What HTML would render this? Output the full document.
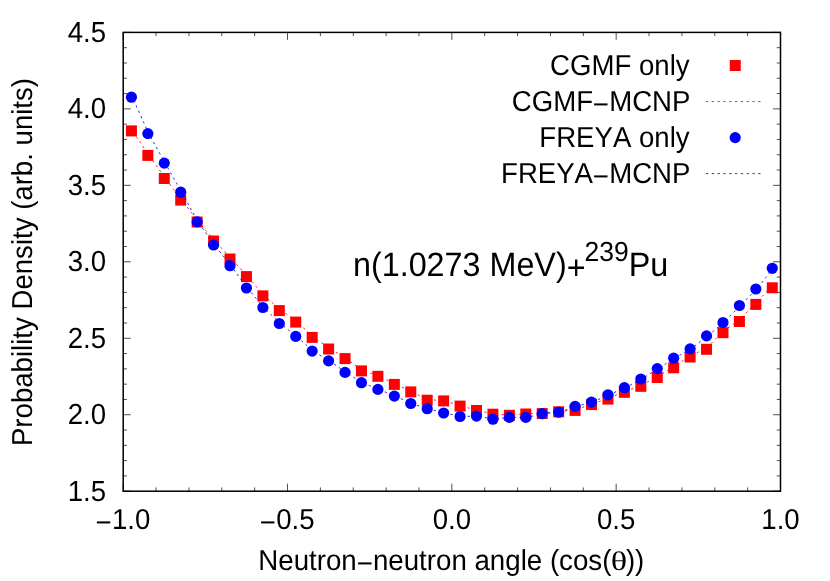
<!DOCTYPE html>
<html><head><meta charset="utf-8"><title>plot</title>
<style>
html,body{margin:0;padding:0;background:#fff;}
body{width:830px;height:581px;overflow:hidden;}
svg{display:block;will-change:transform;}
text{font-family:"Liberation Sans",sans-serif;fill:#000;text-rendering:geometricPrecision;font-kerning:none;}
.t{font-size:27.60px;}
.a{font-size:32.30px;}
</style></head><body>
<svg width="830" height="581" viewBox="0 0 830 581">
<rect width="830" height="581" fill="#fff"/>
<path d="M123.20 491.20h7.50M780.50 491.20h-7.50M123.20 475.91h3.75M780.50 475.91h-3.75M123.20 460.61h3.75M780.50 460.61h-3.75M123.20 445.32h3.75M780.50 445.32h-3.75M123.20 430.03h3.75M780.50 430.03h-3.75M123.20 414.73h7.50M780.50 414.73h-7.50M123.20 399.44h3.75M780.50 399.44h-3.75M123.20 384.15h3.75M780.50 384.15h-3.75M123.20 368.85h3.75M780.50 368.85h-3.75M123.20 353.56h3.75M780.50 353.56h-3.75M123.20 338.27h7.50M780.50 338.27h-7.50M123.20 322.97h3.75M780.50 322.97h-3.75M123.20 307.68h3.75M780.50 307.68h-3.75M123.20 292.39h3.75M780.50 292.39h-3.75M123.20 277.09h3.75M780.50 277.09h-3.75M123.20 261.80h7.50M780.50 261.80h-7.50M123.20 246.51h3.75M780.50 246.51h-3.75M123.20 231.21h3.75M780.50 231.21h-3.75M123.20 215.92h3.75M780.50 215.92h-3.75M123.20 200.63h3.75M780.50 200.63h-3.75M123.20 185.33h7.50M780.50 185.33h-7.50M123.20 170.04h3.75M780.50 170.04h-3.75M123.20 154.75h3.75M780.50 154.75h-3.75M123.20 139.45h3.75M780.50 139.45h-3.75M123.20 124.16h3.75M780.50 124.16h-3.75M123.20 108.87h7.50M780.50 108.87h-7.50M123.20 93.57h3.75M780.50 93.57h-3.75M123.20 78.28h3.75M780.50 78.28h-3.75M123.20 62.99h3.75M780.50 62.99h-3.75M123.20 47.69h3.75M780.50 47.69h-3.75M123.20 32.40h7.50M780.50 32.40h-7.50M123.20 491.20v-7.50M123.20 32.40v7.50M156.06 491.20v-3.75M156.06 32.40v3.75M188.93 491.20v-3.75M188.93 32.40v3.75M221.80 491.20v-3.75M221.80 32.40v3.75M254.66 491.20v-3.75M254.66 32.40v3.75M287.52 491.20v-7.50M287.52 32.40v7.50M320.39 491.20v-3.75M320.39 32.40v3.75M353.25 491.20v-3.75M353.25 32.40v3.75M386.12 491.20v-3.75M386.12 32.40v3.75M418.98 491.20v-3.75M418.98 32.40v3.75M451.85 491.20v-7.50M451.85 32.40v7.50M484.71 491.20v-3.75M484.71 32.40v3.75M517.58 491.20v-3.75M517.58 32.40v3.75M550.45 491.20v-3.75M550.45 32.40v3.75M583.31 491.20v-3.75M583.31 32.40v3.75M616.17 491.20v-7.50M616.17 32.40v7.50M649.04 491.20v-3.75M649.04 32.40v3.75M681.91 491.20v-3.75M681.91 32.40v3.75M714.77 491.20v-3.75M714.77 32.40v3.75M747.63 491.20v-3.75M747.63 32.40v3.75M780.50 491.20v-7.50M780.50 32.40v7.50" stroke="#000" stroke-width="0.7" fill="none"/>
<g fill="#ff0000">
<rect x="125.92" y="125.40" width="11.0" height="11.0"/>
<rect x="142.35" y="149.90" width="11.0" height="11.0"/>
<rect x="158.78" y="173.00" width="11.0" height="11.0"/>
<rect x="175.21" y="194.60" width="11.0" height="11.0"/>
<rect x="191.65" y="216.50" width="11.0" height="11.0"/>
<rect x="208.08" y="235.50" width="11.0" height="11.0"/>
<rect x="224.51" y="253.50" width="11.0" height="11.0"/>
<rect x="240.94" y="271.10" width="11.0" height="11.0"/>
<rect x="257.38" y="290.40" width="11.0" height="11.0"/>
<rect x="273.81" y="305.10" width="11.0" height="11.0"/>
<rect x="290.24" y="316.60" width="11.0" height="11.0"/>
<rect x="306.67" y="331.90" width="11.0" height="11.0"/>
<rect x="323.11" y="343.50" width="11.0" height="11.0"/>
<rect x="339.54" y="353.10" width="11.0" height="11.0"/>
<rect x="355.97" y="365.40" width="11.0" height="11.0"/>
<rect x="372.40" y="370.80" width="11.0" height="11.0"/>
<rect x="388.84" y="378.90" width="11.0" height="11.0"/>
<rect x="405.27" y="386.40" width="11.0" height="11.0"/>
<rect x="421.70" y="394.70" width="11.0" height="11.0"/>
<rect x="438.13" y="395.40" width="11.0" height="11.0"/>
<rect x="454.57" y="400.60" width="11.0" height="11.0"/>
<rect x="471.00" y="405.00" width="11.0" height="11.0"/>
<rect x="487.43" y="408.70" width="11.0" height="11.0"/>
<rect x="503.86" y="409.80" width="11.0" height="11.0"/>
<rect x="520.30" y="408.50" width="11.0" height="11.0"/>
<rect x="536.73" y="408.10" width="11.0" height="11.0"/>
<rect x="553.16" y="406.30" width="11.0" height="11.0"/>
<rect x="569.59" y="404.90" width="11.0" height="11.0"/>
<rect x="586.03" y="399.10" width="11.0" height="11.0"/>
<rect x="602.46" y="393.60" width="11.0" height="11.0"/>
<rect x="618.89" y="386.80" width="11.0" height="11.0"/>
<rect x="635.32" y="380.80" width="11.0" height="11.0"/>
<rect x="651.76" y="372.00" width="11.0" height="11.0"/>
<rect x="668.19" y="362.30" width="11.0" height="11.0"/>
<rect x="684.62" y="351.50" width="11.0" height="11.0"/>
<rect x="701.05" y="343.80" width="11.0" height="11.0"/>
<rect x="717.49" y="327.20" width="11.0" height="11.0"/>
<rect x="733.92" y="316.00" width="11.0" height="11.0"/>
<rect x="750.35" y="298.90" width="11.0" height="11.0"/>
<rect x="766.78" y="282.30" width="11.0" height="11.0"/>
<rect x="729.75" y="60.00" width="11.0" height="11.0"/>
</g>
<polyline points="131.42,129.30 147.85,153.80 164.28,176.90 180.71,198.50 197.15,220.40 213.58,239.40 230.01,257.40 246.44,275.00 262.88,294.30 279.31,309.00 295.74,320.59 312.17,336.09 328.61,347.84 345.04,357.57 361.47,370.03 377.90,375.50 394.34,383.70 410.77,391.30 427.20,399.71 443.63,400.42 460.07,405.68 476.50,410.14 492.93,413.89 509.36,415.00 525.80,413.69 542.23,413.28 558.66,411.46 575.09,410.04 591.53,404.16 607.96,398.59 624.39,391.70 640.82,385.63 657.26,376.71 673.69,366.89 690.12,355.95 706.55,348.15 722.99,331.33 739.42,319.98 755.85,302.80 772.28,286.20" fill="none" stroke="#ff0000" stroke-width="0.85" stroke-dasharray="2.3 3.5" stroke-dashoffset="-3"/>
<path d="M706.0 101.57H761.2" fill="none" stroke="#ff0000" stroke-width="0.85" stroke-dasharray="2.3 3.5"/>
<g fill="#0000ff">
<circle cx="131.42" cy="97.20" r="5.6"/>
<circle cx="147.85" cy="133.60" r="5.6"/>
<circle cx="164.28" cy="163.10" r="5.6"/>
<circle cx="180.71" cy="192.20" r="5.6"/>
<circle cx="197.15" cy="221.90" r="5.6"/>
<circle cx="213.58" cy="245.00" r="5.6"/>
<circle cx="230.01" cy="265.70" r="5.6"/>
<circle cx="246.44" cy="288.00" r="5.6"/>
<circle cx="262.88" cy="307.50" r="5.6"/>
<circle cx="279.31" cy="323.50" r="5.6"/>
<circle cx="295.74" cy="336.40" r="5.6"/>
<circle cx="312.17" cy="351.10" r="5.6"/>
<circle cx="328.61" cy="360.90" r="5.6"/>
<circle cx="345.04" cy="372.40" r="5.6"/>
<circle cx="361.47" cy="382.70" r="5.6"/>
<circle cx="377.90" cy="389.40" r="5.6"/>
<circle cx="394.34" cy="396.10" r="5.6"/>
<circle cx="410.77" cy="403.50" r="5.6"/>
<circle cx="427.20" cy="408.70" r="5.6"/>
<circle cx="443.63" cy="413.00" r="5.6"/>
<circle cx="460.07" cy="416.50" r="5.6"/>
<circle cx="476.50" cy="416.10" r="5.6"/>
<circle cx="492.93" cy="419.20" r="5.6"/>
<circle cx="509.36" cy="417.40" r="5.6"/>
<circle cx="525.80" cy="417.40" r="5.6"/>
<circle cx="542.23" cy="413.60" r="5.6"/>
<circle cx="558.66" cy="412.20" r="5.6"/>
<circle cx="575.09" cy="406.40" r="5.6"/>
<circle cx="591.53" cy="402.10" r="5.6"/>
<circle cx="607.96" cy="394.80" r="5.6"/>
<circle cx="624.39" cy="387.70" r="5.6"/>
<circle cx="640.82" cy="379.00" r="5.6"/>
<circle cx="657.26" cy="368.60" r="5.6"/>
<circle cx="673.69" cy="358.20" r="5.6"/>
<circle cx="690.12" cy="348.90" r="5.6"/>
<circle cx="706.55" cy="335.90" r="5.6"/>
<circle cx="722.99" cy="322.50" r="5.6"/>
<circle cx="739.42" cy="305.50" r="5.6"/>
<circle cx="755.85" cy="289.00" r="5.6"/>
<circle cx="772.28" cy="268.30" r="5.6"/>
<circle cx="735.2" cy="137.6" r="5.6"/>
</g>
<polyline points="132.32,97.20 148.75,133.60 165.18,163.10 181.61,192.20 198.05,221.90 214.48,245.00 230.91,265.70 247.34,288.00 263.78,307.50 280.21,323.50 296.64,336.40 313.07,351.10 329.51,360.90 345.94,372.40 362.37,382.70 378.80,389.40 395.24,396.10 411.67,403.50 428.10,408.70 444.53,413.00 460.97,416.50 477.40,416.10 493.83,419.20 510.26,417.40 526.70,417.40 543.13,413.60 559.56,412.20 575.99,406.40 592.43,402.10 608.86,394.80 625.29,387.70 641.72,379.00 658.16,368.60 674.59,358.20 691.02,348.90 707.45,335.90 723.89,322.50 740.32,305.50 756.75,289.00 773.18,268.30" fill="none" stroke="#0000ff" stroke-width="0.85" stroke-dasharray="2.3 3.5" stroke-dashoffset="-3.3"/>
<path d="M706.0 173.6H761.2" fill="none" stroke="#0000ff" stroke-width="0.85" stroke-dasharray="2.3 3.5"/>
<rect x="123.20" y="32.40" width="657.30" height="458.80" fill="none" stroke="#000" stroke-width="1.5"/>
<text class="t" transform="translate(106.10 500.50) scale(1.000 1.050)" text-anchor="end">1.5</text>
<text class="t" transform="translate(106.10 424.03) scale(1.000 1.050)" text-anchor="end">2.0</text>
<text class="t" transform="translate(106.10 347.57) scale(1.000 1.050)" text-anchor="end">2.5</text>
<text class="t" transform="translate(106.10 271.10) scale(1.000 1.050)" text-anchor="end">3.0</text>
<text class="t" transform="translate(106.10 194.63) scale(1.000 1.050)" text-anchor="end">3.5</text>
<text class="t" transform="translate(106.10 118.17) scale(1.000 1.050)" text-anchor="end">4.0</text>
<text class="t" transform="translate(106.10 41.70) scale(1.000 1.050)" text-anchor="end">4.5</text>
<text class="t" transform="translate(123.20 529.20) scale(1.000 1.045)" text-anchor="middle"><tspan dy="3.1" dx="-0.3">−</tspan><tspan dy="-3.1" dx="0.3">1.0</tspan></text>
<text class="t" transform="translate(287.52 529.20) scale(1.000 1.045)" text-anchor="middle"><tspan dy="3.1" dx="-0.3">−</tspan><tspan dy="-3.1" dx="0.3">0.5</tspan></text>
<text class="t" transform="translate(451.85 529.20) scale(1.000 1.045)" text-anchor="middle">0.0</text>
<text class="t" transform="translate(616.17 529.20) scale(1.000 1.045)" text-anchor="middle">0.5</text>
<text class="t" transform="translate(780.50 529.20) scale(1.000 1.045)" text-anchor="middle">1.0</text>
<text class="t" transform="translate(611.40 569.90) scale(1.003 1.045)" text-anchor="end">Neutron<tspan dy="3.1" dx="0.0">−</tspan><tspan dy="-3.1" dx="-0.0">neutron angle (cos(</tspan></text>
<text class="t" transform="translate(619.05 569.90) scale(1.240 0.970)" text-anchor="middle" style="font-family:'Liberation Serif',serif">θ</text>
<text class="t" transform="translate(625.90 569.90) scale(1.000 1.045)" text-anchor="start">))</text>
<text class="t" transform="translate(31.60 262.00) rotate(-90) scale(1.000 1.045)" text-anchor="middle">Probability Density (arb. units)</text>
<text class="t" transform="translate(689.60 75.20) scale(1.000 1.045)" text-anchor="end">CGMF only</text>
<text class="t" transform="translate(690.40 111.20) scale(1.000 1.045)" text-anchor="end">CGMF<tspan dy="3.1" dx="-0.4">−</tspan><tspan dy="-3.1" dx="0.4">MCNP</tspan></text>
<text class="t" transform="translate(689.60 147.20) scale(1.000 1.045)" text-anchor="end">FREYA only</text>
<text class="t" transform="translate(690.40 183.20) scale(1.000 1.045)" text-anchor="end">FREYA<tspan dy="3.1" dx="-0.4">−</tspan><tspan dy="-3.1" dx="0.4">MCNP</tspan></text>
<text class="a" transform="translate(353.00 276.00) scale(1.000 1.045)" text-anchor="start">n(1.0273 MeV)<tspan dy="3.3">+</tspan><tspan font-size="26.5" dy="-17.65" dx="-1.0">239</tspan><tspan dy="14.35" dx="0">Pu</tspan></text>
</svg></body></html>
